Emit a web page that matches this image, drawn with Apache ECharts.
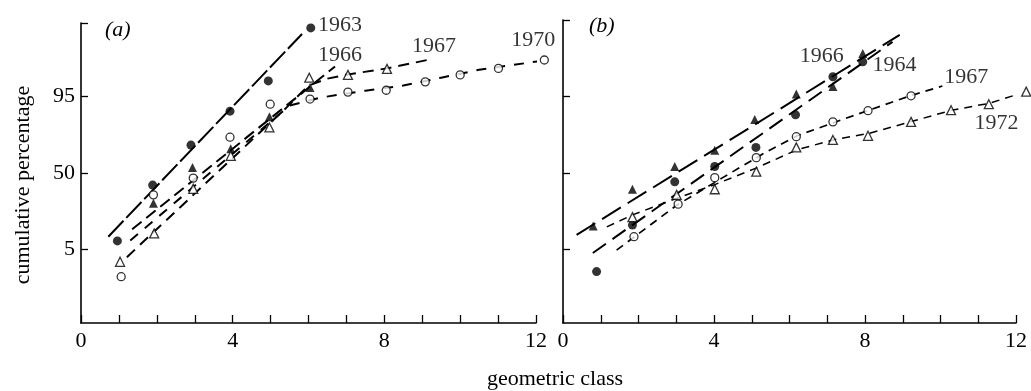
<!DOCTYPE html>
<html><head><meta charset="utf-8">
<script src="https://cdn.jsdelivr.net/npm/echarts@6/dist/echarts.min.js"></script>
<style>html,body{margin:0;padding:0;background:#fff}#c{width:1031px;height:391px}</style>
</head><body><div id="c"></div>
<script>
// y values are in probit units (normal deviate + 5) — the axis is a probability scale
const xTickLabels = [0, 4, 8, 12];
const yTickPercent = ['5', '50', '95'];
const yTickProbit = [3.355, 5, 6.645];

// ---- panel (a) observed points ----
const a1963_x = [0.96, 1.89, 2.90, 3.93, 4.94, 6.06];
const a1963_y = [3.54, 4.74, 5.60, 6.33, 6.98, 8.12];
const a1966_x = [1.91, 2.94, 3.95, 4.97, 6.04];
const a1966_y = [4.35, 5.12, 5.52, 6.21, 6.84];
const a1967_x = [1.03, 1.93, 2.96, 3.95, 4.97, 6.02, 7.04, 8.07];
const a1967_y = [3.09, 3.70, 4.66, 5.37, 5.98, 7.05, 7.11, 7.24];
const a1970_x = [1.06, 1.91, 2.96, 3.93, 4.99, 6.04, 7.04, 8.05, 9.08, 10.0, 11.01, 12.22];
const a1970_y = [2.77, 4.53, 4.89, 5.77, 6.48, 6.59, 6.74, 6.78, 6.96, 7.11, 7.25, 7.43];

// ---- panel (a) fitted curves ----
const fa1963_x = [0.72, 5.83];
const fa1963_y = [3.63, 7.99];
const fa1966_x = [1.35, 6.7];
const fa1966_y = [3.79, 7.29];
const fa1967_x = [1.21, 5.41, 6.0, 6.5, 7.04, 8.07, 9.13];
const fa1967_y = [3.19, 6.40, 6.88, 7.03, 7.12, 7.25, 7.43];
const fa1970_x = [1.3, 5.5, 6.3, 7.5, 8.5, 9.5, 10.5, 11.7, 12.45];
const fa1970_y = [3.55, 6.45, 6.62, 6.77, 6.88, 7.05, 7.22, 7.36, 7.45];

// ---- panel (b) observed points ----
const b1964_x = [0.89, 1.84, 2.96, 4.02, 5.11, 6.16, 7.15, 7.94];
const b1964_y = [2.88, 3.88, 4.81, 5.14, 5.55, 6.25, 7.07, 7.39];
const b1966_x = [0.80, 1.84, 2.96, 4.02, 5.08, 6.18, 7.15, 7.94];
const b1966_y = [3.86, 4.65, 5.14, 5.49, 6.15, 6.70, 6.86, 7.57];
const b1967_x = [1.88, 3.05, 4.02, 5.12, 6.18, 7.15, 8.08, 9.22];
const b1967_y = [3.63, 4.33, 4.90, 5.33, 5.78, 6.10, 6.34, 6.66];
const b1972_x = [1.84, 3.01, 4.02, 5.12, 6.18, 7.15, 8.08, 9.22, 10.28, 11.28, 12.27];
const b1972_y = [4.05, 4.53, 4.65, 5.03, 5.55, 5.71, 5.80, 6.10, 6.35, 6.48, 6.75];

// ---- panel (b) fitted curves ----
const fb1966_x = [0.36, 8.92];
const fb1966_y = [3.67, 7.97];
const fb1964_x = [0.79, 8.73];
const fb1964_y = [3.28, 7.82];
const fb1967_x = [1.42, 3.0, 4.23, 5.4, 6.2, 7.4, 8.1, 9.2, 10.05];
const fb1967_y = [3.34, 4.3, 4.9, 5.46, 5.8, 6.15, 6.35, 6.66, 6.87];
const fb1972_x = [1.16, 1.84, 3.0, 4.02, 5.1, 6.2, 7.2, 8.1, 9.2, 10.3, 11.3, 12.27];
const fb1972_y = [3.84, 4.1, 4.45, 4.75, 5.1, 5.5, 5.72, 5.85, 6.1, 6.35, 6.5, 6.75];

// ---- curve labels ----
const annA_text = ['1963', '1966', '1967', '1970'];
const annA_x = [6.25, 6.25, 8.73, 11.35];
const annA_y = [8.18, 7.54, 7.72, 7.86];
const annB_text = ['1966', '1964', '1967', '1972'];
const annB_x = [6.27, 8.2, 10.1, 10.9];
const annB_y = [7.52, 7.32, 7.05, 6.06];

const FONT = 'Liberation Serif';
const INK = '#000';
const zip = (xs, ys) => xs.map((x, i) => [x, ys[i]]);

const filledCircle = { symbol: 'circle', symbolSize: 9, itemStyle: { color: INK } };
const openCircle = { symbol: 'circle', symbolSize: 8, itemStyle: { color: '#fff', borderColor: INK, borderWidth: 1.3 } };
const filledTri = { symbol: 'triangle', symbolSize: 9, itemStyle: { color: INK } };
const openTri = { symbol: 'triangle', symbolSize: 9, itemStyle: { color: '#fff', borderColor: INK, borderWidth: 1.3 } };

function pts(idx, xs, ys, sty) {
  return Object.assign({ type: 'scatter', xAxisIndex: idx, yAxisIndex: idx, data: zip(xs, ys),
    clip: false, z: 5, silent: true }, sty);
}
function fit(idx, xs, ys, dash, width) {
  return { type: 'line', xAxisIndex: idx, yAxisIndex: idx, data: zip(xs, ys), showSymbol: false,
    symbol: 'none', clip: false, silent: true, z: 3,
    lineStyle: { color: INK, width: width, type: dash } };
}
function ann(idx, xs, ys, texts) {
  return { type: 'scatter', xAxisIndex: idx, yAxisIndex: idx, symbolSize: 0, clip: false, silent: true,
    data: xs.map((x, i) => ({ value: [x, ys[i]], name: texts[i] })),
    label: { show: true, position: [0, 0], align: 'left', verticalAlign: 'middle',
      formatter: p => p.name, fontFamily: FONT, fontSize: 22, color: INK } };
}

function xAxis(idx) {
  return { type: 'value', gridIndex: idx, min: 0, max: 12, interval: 1,
    axisLine: { lineStyle: { color: INK, width: 1.6 } },
    axisTick: { inside: true, length: 8, lineStyle: { color: INK, width: 1.3 } },
    axisLabel: { customValues: xTickLabels, fontFamily: FONT, fontSize: 22, color: INK, margin: 7 },
    splitLine: { show: false } };
}
function yAxis(idx, max, showLabels) {
  return { type: 'value', gridIndex: idx, min: 1.774, max: max,
    axisLine: { show: true, lineStyle: { color: INK, width: 1.6 } },
    axisTick: { show: true, inside: true, length: 7, customValues: yTickProbit.concat([max]),
      lineStyle: { color: INK, width: 1.3 } },
    axisLabel: { show: showLabels, customValues: yTickProbit, fontFamily: FONT, fontSize: 22, color: INK, margin: 6,
      formatter: v => { const i = yTickProbit.findIndex(t => Math.abs(t - v) < 1e-6); return i >= 0 ? yTickPercent[i] : ''; } },
    splitLine: { show: false } };
}

const chart = echarts.init(document.getElementById('c'), null, { renderer: 'canvas' });
chart.setOption({
  backgroundColor: '#fff',
  animation: false,
  grid: [
    { left: 81, top: 23, width: 455, height: 300 },
    { left: 563, top: 20, width: 453, height: 303 }
  ],
  xAxis: [xAxis(0), xAxis(1)],
  yAxis: [yAxis(0, 8.226, true), yAxis(1, 8.29, false)],
  graphic: [
    { type: 'text', left: 105, top: 19, style: { text: '(a)', font: 'italic 22px "Liberation Serif"', fill: INK } },
    { type: 'text', left: 589, top: 15, style: { text: '(b)', font: 'italic 22px "Liberation Serif"', fill: INK } },
    { type: 'text', x: 23, y: 185, rotation: Math.PI / 2,
      style: { text: 'cumulative percentage', font: '22px "Liberation Serif"', fill: INK, align: 'center', verticalAlign: 'middle' } },
    { type: 'text', x: 555, y: 379,
      style: { text: 'geometric class', font: '22px "Liberation Serif"', fill: INK, align: 'center', verticalAlign: 'middle' } }
  ],
  series: [
    fit(0, fa1963_x, fa1963_y, [22, 4], 2),
    fit(0, fa1966_x, fa1966_y, [12, 6], 2),
    fit(0, fa1967_x, fa1967_y, [11, 7], 2),
    fit(0, fa1970_x, fa1970_y, [10, 9], 2),
    pts(0, a1963_x, a1963_y, filledCircle),
    pts(0, a1966_x, a1966_y, filledTri),
    pts(0, a1967_x, a1967_y, openTri),
    pts(0, a1970_x, a1970_y, openCircle),
    ann(0, annA_x, annA_y, annA_text),

    fit(1, fb1966_x, fb1966_y, [22, 8], 2),
    fit(1, fb1964_x, fb1964_y, [16, 8], 2),
    fit(1, fb1967_x, fb1967_y, [8, 6], 1.7),
    fit(1, fb1972_x, fb1972_y, [8, 6], 1.5),
    pts(1, b1964_x, b1964_y, filledCircle),
    pts(1, b1966_x, b1966_y, filledTri),
    pts(1, b1967_x, b1967_y, openCircle),
    pts(1, b1972_x, b1972_y, openTri),
    ann(1, annB_x, annB_y, annB_text)
  ]
});
</script>
</body></html>
